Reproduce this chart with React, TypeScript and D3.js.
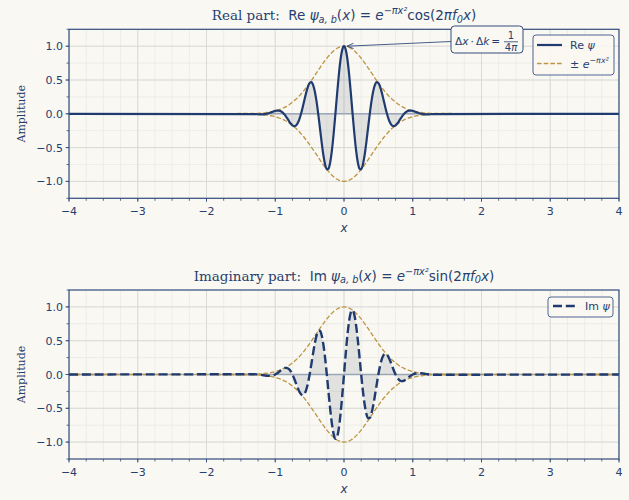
import * as d3 from "d3";

// sample positions along x (dense around the packet, flat tails to ±4)
const sampleX = [
  -4,
  -1.3, -1.275, -1.25, -1.225, -1.2, -1.175, -1.15, -1.125, -1.1, -1.075, -1.05, -1.025,
  -1, -0.975, -0.95, -0.925, -0.9, -0.875, -0.85, -0.825, -0.8, -0.775, -0.75, -0.725,
  -0.7, -0.675, -0.65, -0.625, -0.6, -0.575, -0.55, -0.525, -0.5, -0.475, -0.45, -0.425,
  -0.4, -0.375, -0.35, -0.325, -0.3, -0.275, -0.25, -0.225, -0.2, -0.175, -0.15, -0.125,
  -0.1, -0.075, -0.05, -0.025,
  0,
  0.025, 0.05, 0.075, 0.1, 0.125, 0.15, 0.175, 0.2, 0.225, 0.25, 0.275, 0.3,
  0.325, 0.35, 0.375, 0.4, 0.425, 0.45, 0.475, 0.5, 0.525, 0.55, 0.575, 0.6,
  0.625, 0.65, 0.675, 0.7, 0.725, 0.75, 0.775, 0.8, 0.825, 0.85, 0.875, 0.9,
  0.925, 0.95, 0.975, 1, 1.025, 1.05, 1.075, 1.1, 1.125, 1.15, 1.175, 1.2,
  1.225, 1.25, 1.275, 1.3,
  4,
];

const realPart = [
  0,
  -0.004, -0.006, -0.007, -0.009, -0.009, -0.008, -0.005, 0, 0.007, 0.016, 0.025, 0.035,
  0.043, 0.048, 0.047, 0.04, 0.024, 0, -0.032, -0.069, -0.108, -0.144, -0.171, -0.182,
  -0.174, -0.14, -0.082, 0, 0.1, 0.208, 0.313, 0.4, 0.456, 0.468, 0.428, 0.333,
  0.187, 0, -0.21, -0.422, -0.61, -0.75, -0.822, -0.811, -0.713, -0.534, -0.288, 0,
  0.299, 0.578, 0.803, 0.949,
  1.0,
  0.949, 0.803, 0.578, 0.299, 0, -0.288, -0.534, -0.713, -0.811, -0.822, -0.75, -0.61,
  -0.422, -0.21, 0, 0.187, 0.333, 0.428, 0.468, 0.456, 0.4, 0.313, 0.208, 0.1,
  0, -0.082, -0.14, -0.174, -0.182, -0.171, -0.144, -0.108, -0.069, -0.032, 0, 0.024,
  0.04, 0.047, 0.048, 0.043, 0.035, 0.025, 0.016, 0.007, 0, -0.005, -0.008, -0.009,
  -0.009, -0.007, -0.006, -0.004,
  0,
];

const imagPart = [
  0,
  0.003, 0.002, 0, -0.003, -0.006, -0.011, -0.015, -0.019, -0.021, -0.021, -0.018, -0.011,
  0, 0.016, 0.034, 0.055, 0.075, 0.09, 0.098, 0.095, 0.079, 0.047, 0, -0.059,
  -0.126, -0.193, -0.252, -0.293, -0.307, -0.286, -0.227, -0.13, 0, 0.152, 0.311, 0.459,
  0.575, 0.643, 0.647, 0.581, 0.443, 0.244, 0, -0.264, -0.518, -0.735, -0.886, -0.952,
  -0.922, -0.795, -0.583, -0.308,
  0,
  0.308, 0.583, 0.795, 0.922, 0.952, 0.886, 0.735, 0.518, 0.264, 0, -0.244, -0.443,
  -0.581, -0.647, -0.643, -0.575, -0.459, -0.311, -0.152, 0, 0.13, 0.227, 0.286, 0.307,
  0.293, 0.252, 0.193, 0.126, 0.059, 0, -0.047, -0.079, -0.095, -0.098, -0.09, -0.075,
  -0.055, -0.034, -0.016, 0, 0.011, 0.018, 0.021, 0.021, 0.019, 0.015, 0.011, 0.006,
  0.003, 0, -0.002, -0.003,
  0,
];

const envelope = [
  0,
  0.005, 0.006, 0.007, 0.009, 0.011, 0.013, 0.016, 0.019, 0.022, 0.027, 0.031, 0.037,
  0.043, 0.05, 0.059, 0.068, 0.078, 0.09, 0.103, 0.118, 0.134, 0.152, 0.171, 0.192,
  0.214, 0.239, 0.265, 0.293, 0.323, 0.354, 0.387, 0.421, 0.456, 0.492, 0.529, 0.567,
  0.605, 0.643, 0.681, 0.718, 0.754, 0.789, 0.822, 0.853, 0.882, 0.908, 0.932, 0.952,
  0.969, 0.982, 0.992, 0.998,
  1.0,
  0.998, 0.992, 0.982, 0.969, 0.952, 0.932, 0.908, 0.882, 0.853, 0.822, 0.789, 0.754,
  0.718, 0.681, 0.643, 0.605, 0.567, 0.529, 0.492, 0.456, 0.421, 0.387, 0.354, 0.323,
  0.293, 0.265, 0.239, 0.214, 0.192, 0.171, 0.152, 0.134, 0.118, 0.103, 0.09, 0.078,
  0.068, 0.059, 0.05, 0.043, 0.037, 0.031, 0.027, 0.022, 0.019, 0.016, 0.013, 0.011,
  0.009, 0.007, 0.006, 0.005,
  0,
];

const xTickValues = [-4, -3, -2, -1, 0, 1, 2, 3, 4];
const xTickLabels = ["−4", "−3", "−2", "−1", "0", "1", "2", "3", "4"];
const yTickValues = [-1, -0.5, 0, 0.5, 1];
const yTickLabels = ["−1.0", "−0.5", "0.0", "0.5", "1.0"];

const WIDTH = 629;
const HEIGHT = 500;
const LEFT = 69;
const RIGHT = 619;
const PANEL_H = 169;

const BG = "#faf8f2";
const NAVY = "#1f3b70";
const TEXT = "#25406f";
const SPINE = "#334c7d";
const GOLD = "#bf9444";
const SANS = "'DejaVu Sans', sans-serif";
const SERIF = "'DejaVu Serif', serif";

type Seg = { t: string; it?: boolean; sub?: boolean; sup?: boolean; serif?: boolean };

const MathSpans = ({ segs, size }: { segs: Seg[]; size: number }) => {
  let shift = 0;
  return (
    <>
      {segs.map((s, i) => {
        const target = s.sub ? size * 0.22 : s.sup ? -size * 0.42 : 0;
        const dy = target - shift;
        shift = target;
        return (
          <tspan
            key={i}
            dy={dy}
            fontStyle={s.it ? "italic" : "normal"}
            fontFamily={s.serif ? SERIF : SANS}
            fontSize={s.sub || s.sup ? size * 0.72 : size}
          >
            {s.t}
          </tspan>
        );
      })}
    </>
  );
};

const titleRe: Seg[] = [
  { t: "Real part:  ", serif: true },
  { t: "Re " },
  { t: "ψ", it: true },
  { t: "a, b", it: true, sub: true },
  { t: "(" },
  { t: "x", it: true },
  { t: ") = " },
  { t: "e", it: true },
  { t: "−πx²", it: true, sup: true },
  { t: "cos(2" },
  { t: "π", it: true },
  { t: "f", it: true },
  { t: "0", it: true, sub: true },
  { t: "x", it: true },
  { t: ")" },
];

const titleIm: Seg[] = [
  { t: "Imaginary part:  ", serif: true },
  { t: "Im " },
  { t: "ψ", it: true },
  { t: "a, b", it: true, sub: true },
  { t: "(" },
  { t: "x", it: true },
  { t: ") = " },
  { t: "e", it: true },
  { t: "−πx²", it: true, sup: true },
  { t: "sin(2" },
  { t: "π", it: true },
  { t: "f", it: true },
  { t: "0", it: true, sub: true },
  { t: "x", it: true },
  { t: ")" },
];

type PanelProps = { top: number; values: number[]; title: Seg[]; dashed: boolean; id: string };

function Panel({ top, values, title, dashed, id }: PanelProps) {
  const x = d3.scaleLinear().domain([-4, 4]).range([LEFT, RIGHT]);
  const y = d3.scaleLinear().domain([-1.25, 1.25]).range([top + PANEL_H, top]);
  const bottom = top + PANEL_H;

  const pts: [number, number][] = sampleX.map((v, i) => [v, values[i]]);
  const envPts: [number, number][] = sampleX.map((v, i) => [v, envelope[i]]);

  const line = d3
    .line<[number, number]>()
    .x((d) => x(d[0]))
    .y((d) => y(d[1]))
    .curve(d3.curveMonotoneX);
  const negLine = d3
    .line<[number, number]>()
    .x((d) => x(d[0]))
    .y((d) => y(-d[1]))
    .curve(d3.curveMonotoneX);
  const area = d3
    .area<[number, number]>()
    .x((d) => x(d[0]))
    .y0(y(0))
    .y1((d) => y(d[1]))
    .curve(d3.curveMonotoneX);

  const xMinor = d3.range(-4, 4.001, 0.25);
  const yMinor = d3.range(-1.25, 1.2501, 0.25);

  return (
    <g>
      <defs>
        <clipPath id={id}>
          <rect x={LEFT} y={top} width={RIGHT - LEFT} height={PANEL_H} />
        </clipPath>
      </defs>
      <rect x={LEFT} y={top} width={RIGHT - LEFT} height={PANEL_H} fill={BG} />

      {/* grid */}
      <g clipPath={`url(#${id})`}>
        {xMinor.map((v) => (
          <line key={"xm" + v} x1={x(v)} x2={x(v)} y1={top} y2={bottom} stroke="#e8e8e2" strokeWidth={0.7} />
        ))}
        {yMinor.map((v) => (
          <line key={"ym" + v} x1={LEFT} x2={RIGHT} y1={y(v)} y2={y(v)} stroke="#e8e8e2" strokeWidth={0.7} />
        ))}
        {xTickValues.map((v) => (
          <line key={"xg" + v} x1={x(v)} x2={x(v)} y1={top} y2={bottom} stroke="#d9dbd8" strokeWidth={1} />
        ))}
        {yTickValues.map((v) => (
          <line key={"yg" + v} x1={LEFT} x2={RIGHT} y1={y(v)} y2={y(v)} stroke="#d9dbd8" strokeWidth={1} />
        ))}

        <path d={area(pts) ?? ""} fill="#7f8a94" fillOpacity={0.2} />
        <line x1={LEFT} x2={RIGHT} y1={y(0)} y2={y(0)} stroke="#8796ad" strokeOpacity={0.75} strokeWidth={1.6} />
        <path d={line(envPts) ?? ""} fill="none" stroke={GOLD} strokeWidth={1.3} strokeDasharray="4.6,2.1" />
        <path d={negLine(envPts) ?? ""} fill="none" stroke={GOLD} strokeWidth={1.3} strokeDasharray="4.6,2.1" />
        <path
          d={line(pts) ?? ""}
          fill="none"
          stroke={NAVY}
          strokeWidth={dashed ? 2.4 : 2.2}
          strokeDasharray={dashed ? "9,3.8" : undefined}
          strokeLinejoin="round"
        />
      </g>

      {/* spines */}
      <rect x={LEFT} y={top} width={RIGHT - LEFT} height={PANEL_H} fill="none" stroke={SPINE} strokeWidth={1.2} />

      {/* x ticks */}
      {xMinor.map((v) => (
        <line key={"xt" + v} x1={x(v)} x2={x(v)} y1={bottom} y2={bottom + 2.5} stroke={SPINE} strokeWidth={0.8} />
      ))}
      {xTickValues.map((v, i) => (
        <g key={"xl" + v}>
          <line x1={x(v)} x2={x(v)} y1={bottom} y2={bottom + 3.5} stroke={SPINE} strokeWidth={0.9} />
          <text x={x(v)} y={bottom + 17} textAnchor="middle" fontFamily={SANS} fontSize={11} fill={TEXT}>
            {xTickLabels[i]}
          </text>
        </g>
      ))}

      {/* y ticks */}
      {yMinor.map((v) => (
        <line key={"yt" + v} x1={LEFT - 2.5} x2={LEFT} y1={y(v)} y2={y(v)} stroke={SPINE} strokeWidth={0.8} />
      ))}
      {yTickValues.map((v, i) => (
        <g key={"yl" + v}>
          <line x1={LEFT - 3.5} x2={LEFT} y1={y(v)} y2={y(v)} stroke={SPINE} strokeWidth={0.9} />
          <text x={LEFT - 6} y={y(v) + 4} textAnchor="end" fontFamily={SANS} fontSize={11} fill={TEXT}>
            {yTickLabels[i]}
          </text>
        </g>
      ))}

      {/* labels */}
      <text
        x={(LEFT + RIGHT) / 2}
        y={top - 9.5}
        textAnchor="middle"
        fill={TEXT}
        style={{ whiteSpace: "pre" }}
      >
        <MathSpans segs={title} size={13.5} />
      </text>
      <text x={(LEFT + RIGHT) / 2} y={bottom + 34} textAnchor="middle" fontFamily={SANS} fontStyle="italic" fontSize={12} fill={TEXT}>
        x
      </text>
      <text
        transform={`translate(21,${top + PANEL_H / 2}) rotate(-90)`}
        textAnchor="middle"
        dominantBaseline="central"
        fontFamily={SERIF}
        fontSize={11}
        fill={TEXT}
      >
        Amplitude
      </text>
    </g>
  );
}

export default function App() {
  const top1 = 29.3;
  const top2 = 290;
  const x = d3.scaleLinear().domain([-4, 4]).range([LEFT, RIGHT]);
  const y1 = d3.scaleLinear().domain([-1.25, 1.25]).range([top1 + PANEL_H, top1]);

  // annotation arrow from the box to the peak
  const tipX = x(0) + 3;
  const tipY = y1(1);
  const startX = 451;
  const startY = 41.5;
  const ang = Math.atan2(tipY - startY, tipX - startX);
  const head = 7;
  const spread = 0.38;

  return (
    <svg
      width={WIDTH}
      height={HEIGHT}
      style={{ position: "absolute", left: 0, top: 0, background: BG }}
    >
      <rect width={WIDTH} height={HEIGHT} fill={BG} />
      <Panel top={top1} values={realPart} title={titleRe} dashed={false} id="clip-re" />
      <Panel top={top2} values={imagPart} title={titleIm} dashed={true} id="clip-im" />

      {/* annotation */}
      <line x1={startX} y1={startY} x2={tipX} y2={tipY} stroke={SPINE} strokeWidth={0.9} />
      <path
        d={`M${tipX - head * Math.cos(ang - spread)},${tipY - head * Math.sin(ang - spread)} L${tipX},${tipY} L${
          tipX - head * Math.cos(ang + spread)
        },${tipY - head * Math.sin(ang + spread)}`}
        fill="none"
        stroke={SPINE}
        strokeWidth={0.9}
      />
      <rect x={451} y={26} width={72} height={27} rx={3.5} fill={BG} stroke={SPINE} strokeWidth={1} />
      <text x={455} y={44.5} fill={TEXT} style={{ whiteSpace: "pre" }}>
        <MathSpans
          segs={[
            { t: "Δ" },
            { t: "x", it: true },
            { t: "\u2009·\u2009" },
            { t: "Δ" },
            { t: "k", it: true },
            { t: "\u2009=" },
          ]}
          size={10.5}
        />
      </text>
      <text x={511} y={39} textAnchor="middle" fontFamily={SANS} fontSize={10} fill={TEXT}>
        1
      </text>
      <line x1={504} x2={518} y1={41.8} y2={41.8} stroke={TEXT} strokeWidth={0.8} />
      <text x={511} y={51} textAnchor="middle" fontFamily={SANS} fontSize={10} fill={TEXT}>
        4<tspan fontStyle="italic">π</tspan>
      </text>

      {/* legend, top panel */}
      <rect x={533} y={35} width={81} height={40} rx={3} fill={BG} fillOpacity={0.85} stroke="#4f6595" strokeWidth={1} />
      <line x1={537} x2={562} y1={45} y2={45} stroke={NAVY} strokeWidth={2.2} />
      <text x={570} y={49} fill={TEXT} style={{ whiteSpace: "pre" }}>
        <MathSpans segs={[{ t: "Re " }, { t: "ψ", it: true }]} size={11} />
      </text>
      <line x1={537} x2={562} y1={63.5} y2={63.5} stroke={GOLD} strokeWidth={1.3} strokeDasharray="4.6,2.1" />
      <text x={570} y={68} fill={TEXT} style={{ whiteSpace: "pre" }}>
        <MathSpans segs={[{ t: "± " }, { t: "e", it: true }, { t: "−πx²", it: true, sup: true }]} size={11} />
      </text>

      {/* legend, bottom panel */}
      <rect x={548} y={297} width={65} height={20} rx={3} fill={BG} fillOpacity={0.85} stroke="#4f6595" strokeWidth={1} />
      <line x1={553} x2={576} y1={306} y2={306} stroke={NAVY} strokeWidth={2.4} strokeDasharray="9,3.8" />
      <text x={585} y={310} fill={TEXT} style={{ whiteSpace: "pre" }}>
        <MathSpans segs={[{ t: "Im " }, { t: "ψ", it: true }]} size={11} />
      </text>
    </svg>
  );
}
